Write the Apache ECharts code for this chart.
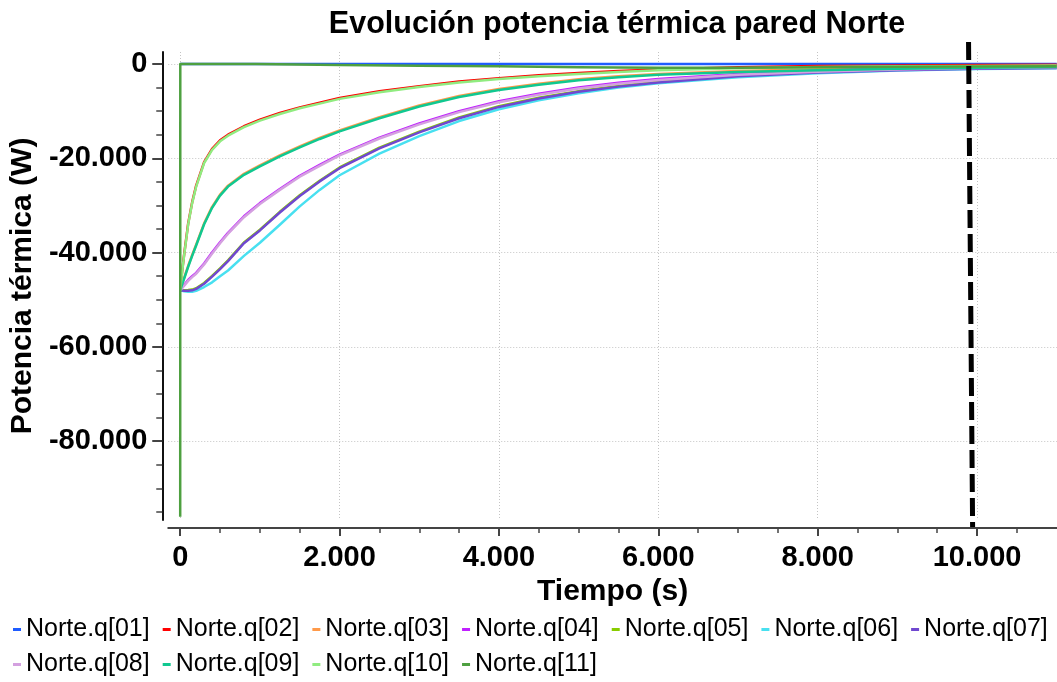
<!DOCTYPE html>
<html>
<head>
<meta charset="utf-8">
<script src="https://cdn.jsdelivr.net/npm/echarts@6/dist/echarts.min.js"></script>
<style>
html,body{margin:0;padding:0;background:#fff;}
#chart{width:1057px;height:682px;}
</style>
</head>
<body>
<div id="chart"></div>
<script>
// ---- data ----
const title = 'Evolución potencia térmica pared Norte';
const xName = 'Tiempo (s)';
const yName = 'Potencia térmica (W)';
const names = ['Norte.q[01]','Norte.q[02]','Norte.q[03]','Norte.q[04]','Norte.q[05]','Norte.q[06]','Norte.q[07]','Norte.q[08]','Norte.q[09]','Norte.q[10]','Norte.q[11]'];
const colors = ['#1f5cff','#ff0000','#ff9a4a','#c020ff','#88cc00','#48e0f0','#7048d0','#d4a0e0','#10c890','#90ec80','#4ea040'];

const t = [0,25,50,100,150,200,300,400,500,600,800,1000,1250,1500,1750,2000,2500,3000,3500,4000,4500,5000,5500,6000,7000,8000,9000,10000,11000];
const q01 = [0,0,0,0,0,0,0,0,0,0,0,0,0,0,0,0,0,0,0,0,0,0,0,0,0,0,0,0,0];
const q02 = [-48000,-43800,-40300,-33800,-29300,-25800,-20800,-18000,-16200,-15000,-13200,-11800,-10400,-9200,-8200,-7200,-5800,-4700,-3700,-3000,-2400,-1900,-1500,-1150,-700,-450,-300,-200,-150];
const q03 = [-48000,-46600,-45300,-42800,-40500,-38300,-33800,-30300,-27700,-25800,-23300,-21500,-19400,-17500,-15700,-14100,-11300,-8800,-6800,-5300,-4200,-3250,-2600,-2100,-1500,-1100,-800,-600,-480];
const q04 = [-48000,-47400,-46850,-45800,-45000,-44300,-42300,-40000,-37800,-35800,-32300,-29500,-26500,-23700,-21400,-19200,-15600,-12600,-10000,-7900,-6300,-5000,-4000,-3200,-2100,-1450,-950,-650,-520];
const q05 = [-48000,-48000,-48000,-47950,-47850,-47550,-46450,-44950,-43350,-41650,-37850,-35150,-31350,-27850,-24750,-21950,-17750,-14350,-11350,-8950,-7150,-5750,-4650,-3750,-2450,-1650,-1150,-850,-700];
const q06 = [-48000,-48100,-48200,-48300,-48300,-48100,-47300,-46300,-45000,-43800,-40700,-37900,-34100,-30200,-26700,-23600,-19000,-15300,-12100,-9600,-7700,-6200,-5000,-4100,-2800,-1950,-1400,-1050,-900];
const q07 = [-48000,-48050,-48100,-48100,-48000,-47700,-46600,-45100,-43500,-41800,-38000,-35300,-31500,-28000,-24900,-22100,-17900,-14500,-11500,-9100,-7300,-5900,-4800,-3900,-2600,-1800,-1300,-1000,-850];
const q08 = [-48000,-47500,-47000,-46000,-45200,-44500,-42500,-40200,-38000,-36000,-32500,-29700,-26700,-23900,-21600,-19400,-15800,-12800,-10200,-8100,-6500,-5200,-4200,-3400,-2300,-1650,-1150,-850,-700];
const q09 = [-48000,-46700,-45500,-43000,-40700,-38500,-34000,-30500,-27900,-26000,-23500,-21700,-19600,-17700,-15900,-14300,-11500,-9000,-7000,-5500,-4400,-3450,-2800,-2300,-1700,-1300,-1000,-800,-650];
const q10 = [-48000,-44000,-40500,-34000,-29500,-26000,-21000,-18200,-16400,-15200,-13400,-12000,-10600,-9400,-8400,-7400,-6000,-4900,-3900,-3200,-2600,-2100,-1700,-1350,-900,-650,-500,-400,-330];
const t11 = [0,1,950,2000,3000,4000,5000,6000,7000,8000,9000,10000,11000];
const q11 = [-96000,0,0,-200,-350,-500,-700,-800,-800,-700,-600,-550,-500];

const markerT = [9893,9944];
const markerV = [4666,-98200];

const xTicks = [0,2000,4000,6000,8000,10000];
const xMinor = [500,1000,1500,2500,3000,3500,4500,5000,5500,6500,7000,7500,8500,9000,9500,10500];
const yTicks = [0,-20000,-40000,-60000,-80000];
const yMinor = [-5000,-10000,-15000,-25000,-30000,-35000,-45000,-50000,-55000,-65000,-70000,-75000,-85000,-90000,-95000];

// ---- build ----
function fmt(v){
  if (v === 0) return '0';
  const s = Math.abs(v).toString().replace(/\B(?=(\d{3})+(?!\d))/g, '.');
  return (v < 0 ? '-' : '') + s;
}
const zip = (a, b) => a.map((x, i) => [x, b[i]]);
const vals = [q01,q02,q03,q04,q05,q06,q07,q08,q09,q10];

const FONT = 'Liberation Sans';
const X_MIN = -150, X_MAX = 11003, Y_MIN = -96713, Y_MAX = 2545;

const series = names.map((n, i) => ({
  name: n,
  type: 'line',
  data: i < 10 ? zip(t, vals[i]) : zip(t11, q11),
  showSymbol: false,
  symbol: 'none',
  smooth: false,
  lineStyle: { width: 2.5, color: colors[i], join: 'round' },
  itemStyle: { color: colors[i] },
  emphasis: { disabled: true },
  animation: false,
  z: 2 + i
}));
series.push({
  name: 'marker',
  type: 'line',
  data: zip(markerT, markerV),
  symbol: 'none',
  clip: false,
  lineStyle: { color: '#000', width: 5, type: [18, 6] },
  itemStyle: { color: '#000' },
  silent: true,
  animation: false,
  z: 20
});

const legendText = { fontFamily: FONT, fontSize: 25, color: '#000' };
const option = {
  backgroundColor: '#fff',
  animation: false,
  title: {
    text: title,
    left: 612,
    textAlign: 'center',
    top: 4,
    textStyle: { fontFamily: FONT, fontSize: 30.5, fontWeight: 'bold', color: '#000' }
  },
  legend: [
    {
      data: names.slice(0, 7),
      left: 8, top: 612,
      icon: 'rect', itemWidth: 8, itemHeight: 3, itemGap: 13,
      textStyle: legendText, selectedMode: false
    },
    {
      data: names.slice(7),
      left: 8, top: 647,
      icon: 'rect', itemWidth: 8, itemHeight: 3, itemGap: 13,
      textStyle: legendText, selectedMode: false
    }
  ],
  grid: { left: 168, right: 0, top: 52, bottom: 162, containLabel: false },
  xAxis: [
    {
      type: 'value', min: X_MIN, max: X_MAX, position: 'bottom', offset: 8,
      name: xName, nameLocation: 'middle', nameGap: 38,
      nameTextStyle: { fontFamily: FONT, fontSize: 30, fontWeight: 'bold', color: '#000' },
      axisLine: { show: true, onZero: false, lineStyle: { color: '#444', width: 2 } },
      axisTick: { show: true, customValues: xTicks, length: 8, lineStyle: { color: '#444', width: 2 } },
      axisLabel: { customValues: xTicks, formatter: fmt, margin: 15, fontFamily: FONT, fontSize: 29, fontWeight: 'bold', color: '#000' },
      splitLine: { show: true, lineStyle: { color: '#c4c4c4', width: 1, type: [1, 2] } }
    },
    {
      type: 'value', min: X_MIN, max: X_MAX, position: 'bottom', offset: 8,
      axisLine: { show: false, onZero: false },
      axisTick: { show: true, customValues: xMinor, length: 5, lineStyle: { color: '#444', width: 1.5 } },
      axisLabel: { show: false },
      splitLine: { show: false }
    }
  ],
  yAxis: [
    {
      type: 'value', min: Y_MIN, max: Y_MAX, position: 'left', offset: 6,
      name: yName, nameLocation: 'middle', nameGap: 111, nameRotate: 90,
      nameTextStyle: { fontFamily: FONT, fontSize: 30, fontWeight: 'bold', color: '#000' },
      axisLine: { show: true, onZero: false, lineStyle: { color: '#111', width: 2 } },
      axisTick: { show: true, customValues: yTicks, length: 10, lineStyle: { color: '#444', width: 2 } },
      axisLabel: { customValues: yTicks, formatter: fmt, margin: 15, fontFamily: FONT, fontSize: 29, fontWeight: 'bold', color: '#000' },
      splitLine: { show: true, lineStyle: { color: '#c4c4c4', width: 1, type: [1, 2] } }
    },
    {
      type: 'value', min: Y_MIN, max: Y_MAX, position: 'left', offset: 6,
      axisLine: { show: false, onZero: false },
      axisTick: { show: true, customValues: yMinor, length: 6, lineStyle: { color: '#444', width: 1.5 } },
      axisLabel: { show: false },
      splitLine: { show: false }
    }
  ],
  series: series
};

const chart = echarts.init(document.getElementById('chart'), null, { renderer: 'canvas' });
chart.setOption(option);
</script>
</body>
</html>
